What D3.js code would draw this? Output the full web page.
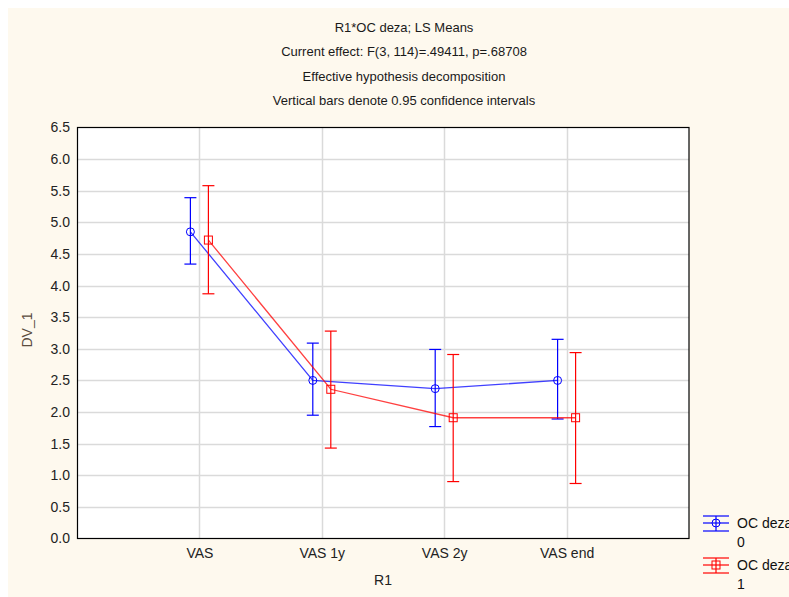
<!DOCTYPE html>
<html>
<head>
<meta charset="utf-8">
<script src="https://cdn.jsdelivr.net/npm/d3@7"></script>
<style>
  body { margin: 0; background: #ffffff; }
  svg { display: block; font-family: "Liberation Sans", Arial, sans-serif; }
</style>
</head>
<body>
<script>
// categorias e valores
const categorias = ["VAS", "VAS 1y", "VAS 2y", "VAS end"];
const media0 = [4.85, 2.50, 2.37, 2.50];
const inf0 = [4.34, 1.95, 1.77, 1.89];
const sup0 = [5.39, 3.09, 2.99, 3.15];
const media1 = [4.72, 2.36, 1.91, 1.91];
const inf1 = [3.87, 1.43, 0.90, 0.87];
const sup1 = [5.58, 3.28, 2.91, 2.94];
const yTicks = [0, 0.5, 1, 1.5, 2, 2.5, 3, 3.5, 4, 4.5, 5, 5.5, 6, 6.5];
const titulos = ["R1*OC deza; LS Means",
  "Current effect: F(3, 114)=.49411, p=.68708",
  "Effective hypothesis decomposition",
  "Vertical bars denote 0.95 confidence intervals"];
const series = [
  { nome: "OC deza", nivel: "0", cor: "#0000ff", media: media0, inf: inf0, sup: sup0, marca: "circle", desloc: -9 },
  { nome: "OC deza", nivel: "1", cor: "#ff0000", media: media1, inf: inf1, sup: sup1, marca: "square", desloc: 9 }
];

const largura = 789, altura = 597;
const margem = { left: 77, right: 689, top: 127.5, bottom: 538.5 };

const svg = d3.select("body").append("svg")
  .attr("width", largura)
  .attr("height", altura);

// fundo creme
svg.append("rect")
  .attr("x", 8).attr("y", 8)
  .attr("width", largura - 8).attr("height", altura - 8)
  .attr("fill", "#fef9ee");

// titulos
titulos.forEach((t, i) => {
  svg.append("text")
    .attr("x", 404)
    .attr("y", 32 + i * 24.3)
    .attr("text-anchor", "middle")
    .attr("font-size", 13)
    .attr("fill", "#1a1a1a")
    .text(t);
});

const x = d3.scaleLinear().domain([0, categorias.length + 1]).range([margem.left, margem.right]);
const y = d3.scaleLinear().domain([0, 6.5]).range([margem.bottom, margem.top]);

// area do grafico
svg.append("rect")
  .attr("x", margem.left).attr("y", margem.top)
  .attr("width", margem.right - margem.left)
  .attr("height", margem.bottom - margem.top)
  .attr("fill", "#ffffff");

// grade horizontal
svg.append("g")
  .selectAll("line")
  .data(yTicks.slice(1, -1))
  .join("line")
  .attr("x1", margem.left).attr("x2", margem.right)
  .attr("y1", d => Math.round(y(d)) + 0.5).attr("y2", d => Math.round(y(d)) + 0.5)
  .attr("stroke", "#dadada")
  .attr("stroke-width", 1.5);

// grade vertical
svg.append("g")
  .selectAll("line")
  .data(categorias)
  .join("line")
  .attr("x1", (d, i) => Math.round(x(i + 1)) + 0.5).attr("x2", (d, i) => Math.round(x(i + 1)) + 0.5)
  .attr("y1", margem.top).attr("y2", margem.bottom)
  .attr("stroke", "#dadada")
  .attr("stroke-width", 1.5);

// eixo y
const eixoY = d3.axisLeft(y).tickValues(yTicks).tickFormat(d3.format(".1f")).tickSize(0).tickPadding(7);
svg.append("g")
  .attr("transform", `translate(${margem.left},0)`)
  .call(eixoY)
  .call(g => g.select(".domain").remove())
  .selectAll("text")
  .attr("font-size", 14)
  .attr("font-family", "Liberation Sans, Arial, sans-serif")
  .attr("fill", "#222");

// eixo x
const eixoX = d3.axisBottom(x)
  .tickValues(categorias.map((d, i) => i + 1))
  .tickFormat((d, i) => categorias[i])
  .tickSize(0).tickPadding(10);
svg.append("g")
  .attr("transform", `translate(0,${margem.bottom})`)
  .call(eixoX)
  .call(g => g.select(".domain").remove())
  .selectAll("text")
  .attr("font-size", 14)
  .attr("font-family", "Liberation Sans, Arial, sans-serif")
  .attr("fill", "#222");

// borda
svg.append("rect")
  .attr("x", margem.left + 0.5).attr("y", margem.top)
  .attr("width", margem.right - margem.left - 0.5)
  .attr("height", margem.bottom - margem.top)
  .attr("fill", "none")
  .attr("stroke", "#000")
  .attr("stroke-width", 1.2);

// titulos dos eixos
svg.append("text")
  .attr("transform", `translate(32,330) rotate(-90)`)
  .attr("text-anchor", "middle")
  .attr("font-size", 14)
  .attr("fill", "#5a4c3e")
  .text("DV_1");

svg.append("text")
  .attr("x", (margem.left + margem.right) / 2)
  .attr("y", 585)
  .attr("text-anchor", "middle")
  .attr("font-size", 14)
  .attr("fill", "#222")
  .text("R1");

function desenharMarca(g, tipo, cx, cy, cor) {
  if (tipo == "circle") {
    g.append("circle")
      .attr("cx", cx).attr("cy", cy).attr("r", 4)
      .attr("fill", "none").attr("stroke", cor).attr("stroke-width", 1);
  } else {
    g.append("rect")
      .attr("x", cx - 4).attr("y", cy - 4)
      .attr("width", 8).attr("height", 8)
      .attr("fill", "none").attr("stroke", cor).attr("stroke-width", 1);
  }
}

// series
series.forEach(s => {
  const g = svg.append("g");
  const linha = d3.line()
    .x((d, i) => x(i + 1) + s.desloc)
    .y(d => y(d));
  g.append("path")
    .attr("d", linha(s.media))
    .attr("fill", "none")
    .attr("stroke", s.cor)
    .attr("stroke-opacity", 0.75)
    .attr("stroke-width", 1.3);

  s.media.forEach((m, i) => {
    const cx = x(i + 1) + s.desloc;
    g.append("line")
      .attr("x1", cx).attr("x2", cx)
      .attr("y1", y(s.inf[i])).attr("y2", y(s.sup[i]))
      .attr("stroke", s.cor).attr("stroke-width", 1.2);
    [s.inf[i], s.sup[i]].forEach(v => {
      g.append("line")
        .attr("x1", cx - 6).attr("x2", cx + 6)
        .attr("y1", y(v)).attr("y2", y(v))
        .attr("stroke", s.cor).attr("stroke-width", 1.2);
    });
    desenharMarca(g, s.marca, cx, y(m), s.cor);
  });
});

// legenda
series.forEach((s, i) => {
  const ly = 523 + i * 42;
  const lx = 716;
  const g = svg.append("g");
  [-7, 0, 8].forEach(dy => {
    g.append("line")
      .attr("x1", lx - 13).attr("x2", lx + 13)
      .attr("y1", ly + dy).attr("y2", ly + dy)
      .attr("stroke", s.cor).attr("stroke-width", 1.2);
  });
  g.append("line")
    .attr("x1", lx).attr("x2", lx)
    .attr("y1", ly - 7).attr("y2", ly + 8)
    .attr("stroke", s.cor).attr("stroke-width", 1.2);
  desenharMarca(g, s.marca, lx, ly, s.cor);
  g.append("text")
    .attr("x", 737).attr("y", ly + 5)
    .attr("font-size", 14)
    .attr("fill", "#111")
    .text(s.nome);
  g.append("text")
    .attr("x", 737).attr("y", ly + 24)
    .attr("font-size", 14)
    .attr("fill", "#111")
    .text(s.nivel);
});
</script>
</body>
</html>
